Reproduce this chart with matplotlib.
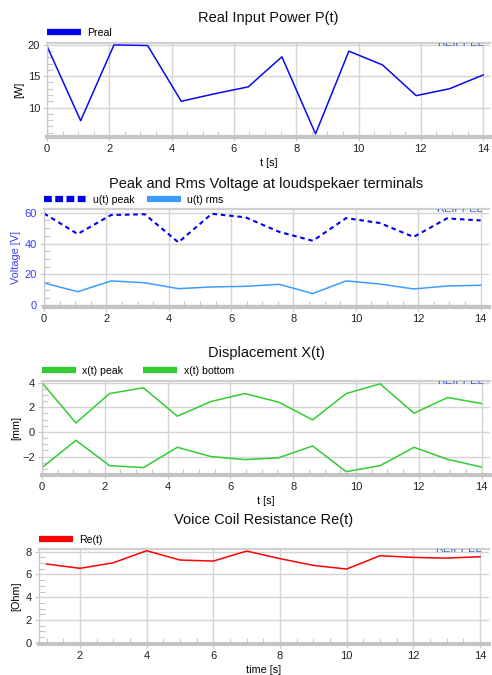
import matplotlib
matplotlib.use('Agg')
import matplotlib.pyplot as plt
from matplotlib.ticker import AutoMinorLocator, MultipleLocator
from matplotlib.lines import Line2D

plt.rcParams['font.family'] = ['Liberation Sans', 'DejaVu Sans']

# ---------------- data ----------------
t_s = [0, 1.08, 2.15, 3.23, 4.31, 5.38, 6.46, 7.54, 8.62, 9.69, 10.77, 11.85, 12.92, 14.0]
p_real = [19.8, 7.9, 20.0, 19.9, 11.0, 12.2, 13.3, 18.1, 5.8, 19.0, 16.8, 11.9, 13.0, 15.2]
u_peak = [59.5, 46.2, 58.5, 59.0, 40.8, 59.3, 57.0, 47.6, 41.8, 56.5, 53.3, 44.3, 56.3, 55.0]
u_rms = [14.5, 8.8, 15.8, 14.6, 10.8, 11.9, 12.3, 13.6, 7.6, 15.8, 13.8, 10.6, 12.5, 13.0]
x_peak = [4.0, 0.73, 3.12, 3.59, 1.28, 2.47, 3.12, 2.42, 0.98, 3.12, 3.91, 1.52, 2.8, 2.31]
x_bottom = [-2.9, -0.68, -2.74, -2.9, -1.25, -2.0, -2.25, -2.1, -1.14, -3.23, -2.74, -1.25, -2.23, -2.85]
t_re = [1, 2, 3, 4, 5, 6, 7, 8, 9, 10, 11, 12, 13, 14]
re_t = [6.92, 6.54, 7.03, 8.09, 7.27, 7.18, 8.06, 7.39, 6.8, 6.48, 7.65, 7.5, 7.44, 7.56]

W, H = 492, 675
fig = plt.figure(figsize=(W / 100, H / 100), dpi=100)

def px_axes(l, t, r, b):
    ax = fig.add_axes([l / W, 1 - b / H, (r - l) / W, (b - t) / H])
    ax._px_h = b - t
    ax._px_w = r - l
    return ax

GRID = '#d4d4d4'
FRAME = '#c8c8c8'
PX = 0.72  # points per pixel
FS_LEG = 7.6

def style(ax, xlim, ylim, xmaj, ymaj, xmin_n, ymin_n, tickcolor='#222222'):
    ax.set_xlim(*xlim)
    ax.set_ylim(*ylim)
    ax.xaxis.set_major_locator(MultipleLocator(xmaj))
    ax.yaxis.set_major_locator(MultipleLocator(ymaj))
    ax.xaxis.set_minor_locator(AutoMinorLocator(xmin_n))
    ax.yaxis.set_minor_locator(AutoMinorLocator(ymin_n))
    ax.grid(True, which='major', color=GRID, lw=1.0)
    ax.set_axisbelow(True)
    ax.spines['right'].set_visible(False)
    ax.spines['top'].set_color('#d0d0d0')
    ax.spines['top'].set_linewidth(1.6)
    ax.spines['left'].set_color(FRAME)
    ax.spines['left'].set_linewidth(0.9)
    ax.spines['bottom'].set_color('#c4c4c4')
    ax.spines['bottom'].set_linewidth(3.0)
    ax.tick_params(which='major', direction='out', length=3, width=0.8, color=FRAME,
                   labelsize=8, pad=2)
    ax.tick_params(axis='y', which='major', labelcolor=tickcolor)
    ax.tick_params(axis='x', which='major', labelcolor='#222222')
    ax.tick_params(which='minor', direction='in', length=4, width=0.8, color=FRAME)
    ax.text(0.985, 1 - 4.5 / ax._px_h, 'REIPPEL', transform=ax.transAxes, ha='right',
            va='bottom', fontsize=8, color='#4466bb', clip_on=True)

def title(ax, text, off_px):
    ax.annotate(text, xy=(0.5, 1), xycoords='axes fraction', xytext=(0, off_px * PX),
                textcoords='offset points', ha='center', va='center', fontsize=10.5,
                color='#111111')

def legend(ax, handles, labels, off_px, x_px=0, hl_px=34):
    leg = ax.legend(handles, labels, loc='center left',
                    bbox_to_anchor=(x_px / ax._px_w, 1 + off_px / ax._px_h),
                    frameon=False, ncol=len(handles), fontsize=FS_LEG,
                    handlelength=hl_px / (FS_LEG / PX),
                    handletextpad=0.6, columnspacing=1.9, borderaxespad=0, borderpad=0)
    return leg

# ---------------- panel 1 ----------------
ax1 = px_axes(47, 43, 490, 137)
ax1.plot(t_s, p_real, color='#0a0aee', lw=1.1)
style(ax1, (0, 14.22), (5.3, 20.3), 2, 5, 4, 5)
ax1.set_ylabel('[W]', fontsize=7.8, labelpad=2.5)
ax1.set_xlabel('t [s]', fontsize=7.8, labelpad=3)
title(ax1, 'Real Input Power P(t)', 25)
legend(ax1, [Line2D([], [], color='#0000ff', lw=4.5, solid_capstyle='butt')], ['Preal'], 10)

# ---------------- panel 2 ----------------
ax2 = px_axes(44, 209, 489, 307)
ax2.plot(t_s, u_peak, color='#0000ee', lw=1.5, ls=(0, (2.2, 1.8)))
ax2.plot(t_s, u_rms, color='#3c9cff', lw=1.1)
style(ax2, (0, 14.27), (-1.1, 62.4), 2, 20, 4, 4, tickcolor='#3a3aff')
ax2.set_ylabel('Voltage [V]', fontsize=7.8, labelpad=2.6, color='#3a3aff')
title(ax2, 'Peak and Rms Voltage at loudspekaer terminals', 25)
leg_a = legend(ax2, [Line2D([], [], color='#0000ee', lw=4.5, ls=(0, (1.25, 0.55)),
                            dash_capstyle='butt')],
               ['u(t) peak'], 9, x_px=0, hl_px=43)
ax2.add_artist(leg_a)
legend(ax2, [Line2D([], [], color='#3c9cff', lw=4.5, solid_capstyle='butt')],
       ['u(t) rms'], 9, x_px=103, hl_px=34)

# ---------------- panel 3 ----------------
ax3 = px_axes(42, 381, 490, 475)
ax3.plot(t_s, x_peak, color='#33cc33', lw=1.1)
ax3.plot(t_s, x_bottom, color='#33cc33', lw=1.1)
style(ax3, (0, 14.27), (-3.5, 4.14), 2, 2, 4, 4)
ax3.set_ylabel('[mm]', fontsize=7.8, labelpad=0.5)
ax3.set_xlabel('t [s]', fontsize=7.8, labelpad=3)
title(ax3, 'Displacement X(t)', 28)
legend(ax3, [Line2D([], [], color='#33cc33', lw=4.5, solid_capstyle='butt'),
             Line2D([], [], color='#33cc33', lw=4.5, solid_capstyle='butt')],
       ['x(t) peak', 'x(t) bottom'], 10)

# ---------------- panel 4 ----------------
ax4 = px_axes(39, 549, 489, 644)
ax4.plot(t_re, re_t, color='#ff0000', lw=1.1)
style(ax4, (0.77, 14.27), (-0.11, 8.24), 2, 2, 4, 4)
ax4.set_ylabel('[Ohm]', fontsize=7.8, labelpad=3)
ax4.set_xlabel('time [s]', fontsize=7.8, labelpad=3)
title(ax4, 'Voice Coil Resistance Re(t)', 29)
legend(ax4, [Line2D([], [], color='#ff0000', lw=4.5, solid_capstyle='butt')], ['Re(t)'], 9)

fig.savefig('out.png', dpi=100)
